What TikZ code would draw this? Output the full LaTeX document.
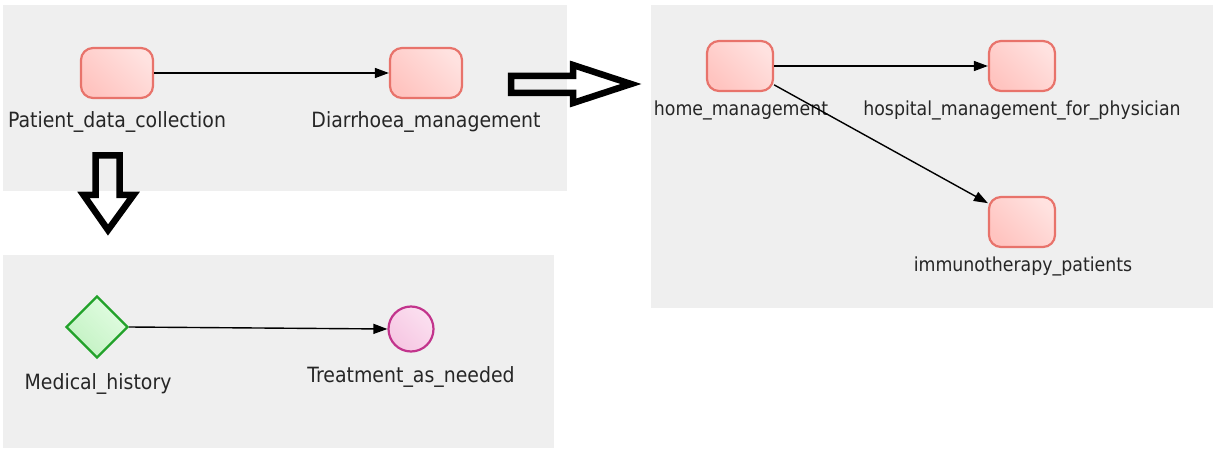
\documentclass[tikz,border=0pt]{standalone}
\usepackage{fontspec}
\setmainfont{DejaVu Sans}[FakeStretch=0.9]
\usetikzlibrary{shapes.geometric,arrows.meta}
\definecolor{panelbg}{HTML}{EFEFEF}
\definecolor{taskline}{HTML}{E8736B}
\definecolor{taskdark}{HTML}{FFC4C0}
\definecolor{tasklight}{HTML}{FFE2E0}
\definecolor{gwline}{HTML}{22A22A}
\definecolor{gwdark}{HTML}{C2F2C2}
\definecolor{gwlight}{HTML}{E2FCE2}
\definecolor{evline}{HTML}{C2348C}
\definecolor{evdark}{HTML}{F6C6E2}
\definecolor{evlight}{HTML}{FBE0F0}
\definecolor{labelcol}{HTML}{262626}
\begin{document}
\begin{tikzpicture}[x=1pt,y=-1pt,
  panel/.style={fill=panelbg},
  task/.style={rectangle, rounded corners=12pt, draw=taskline, line width=2.2pt,
    bottom color=taskdark, top color=tasklight, shading angle=-45,
    minimum width=#1, minimum height=50pt, inner sep=0pt},
  gateway/.style={diamond, draw=gwline, line width=2.2pt,
    bottom color=gwdark, top color=gwlight, shading angle=-45,
    minimum width=62pt, minimum height=62pt, inner sep=0pt},
  event/.style={circle, draw=evline, line width=2.2pt,
    bottom color=evdark, top color=evlight, shading angle=-45,
    minimum size=45pt, inner sep=0pt},
  lbl/.style={text=labelcol, inner sep=0pt, anchor=base, font=\fontsize{21}{24}\selectfont},
  lbls/.style={text=labelcol, inner sep=0pt, anchor=base, font=\fontsize{19.3}{22}\selectfont},
  flow/.style={line width=1.4pt, -{Triangle[length=14pt,width=10pt]}},
  bigarrow/.style={draw=black, line width=6.5pt, line join=miter, miter limit=10}
]
\useasboundingbox (0,0) rectangle (1213,449);
\fill[panel] (3,5) rectangle (567,191);
\fill[panel] (3,255) rectangle (554,448);
\fill[panel] (651,5) rectangle (1213,308);

% top-left panel
\node[task=72pt] (pdc) at (117,73) {};
\node[task=72pt] (dm) at (426,73) {};
\node[lbl] (pdcl) at (117,128) {Patient\_data\_collection};
\node[lbl] (dml) at (426,128) {Diarrhoea\_management};
\draw[flow] (pdc) -- (dm);

% bottom-left panel
\node[gateway] (mh) at (97,327) {};
\node[event] (tan) at (411,329) {};
\node[lbl] (mhl) at (98,389) {Medical\_history};
\node[lbl] (tanl) at (411,382) {Treatment\_as\_needed};
\draw[flow] (mh.east) -- (tan.west);

% right panel
\node[task=66pt] (hm) at (740,66) {};
\node[task=66pt] (hmp) at (1022,66) {};
\node[task=66pt] (ip) at (1022,222) {};
\node[lbls] (hml) at (741,116) {home\_management};
\node[lbls] (hmpl) at (1022,116) {hospital\_management\_for\_physician};
\node[lbls] (ipl) at (1023,272) {immunotherapy\_patients};
\draw[flow] (hm) -- (hmp);
\draw[flow] (hm) -- (ip);

% big hollow arrows
\draw[bigarrow] (511,76) -- (573,76) -- (573,65) -- (631,84) -- (573,103) -- (573,93) -- (511,93) -- cycle;
\draw[bigarrow] (95.5,155.5) -- (119.5,155.5) -- (119.5,195) -- (133.5,195) -- (108,230) -- (83.5,195) -- (95.5,195) -- cycle;
\end{tikzpicture}
\end{document}
